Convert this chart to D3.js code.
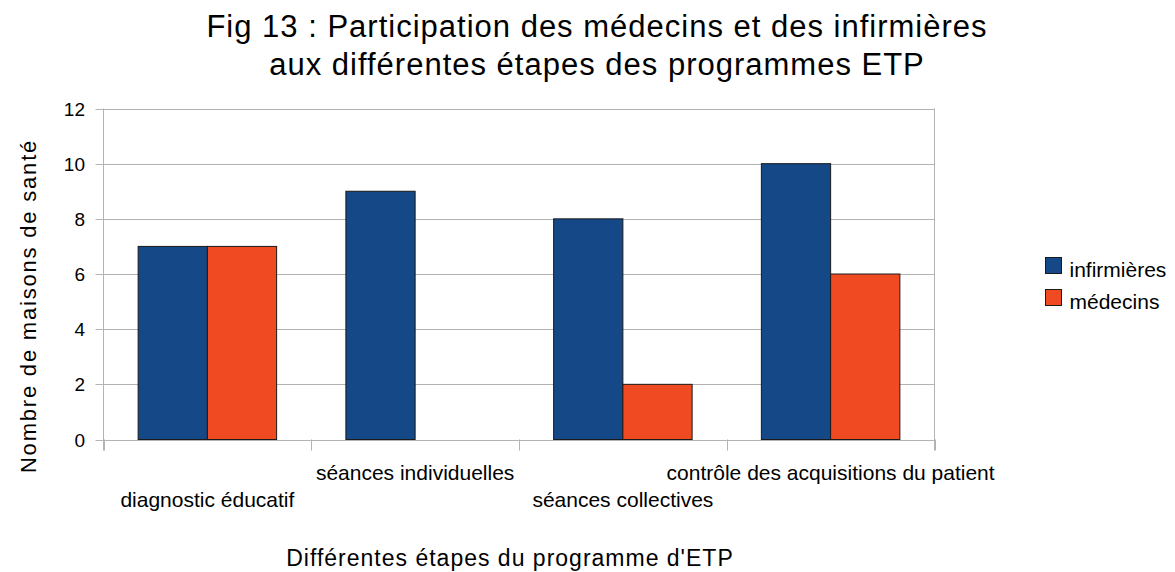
<!DOCTYPE html>
<html>
<head>
<meta charset="utf-8">
<script src="https://cdn.jsdelivr.net/npm/d3@7"></script>
<style>
  body { margin: 0; background: #fff; }
  text { font-family: "Liberation Sans", Arial, sans-serif; fill: #000; }
</style>
</head>
<body>
<script>
// Données
var categories = ["diagnostic éducatif", "séances individuelles", "séances collectives", "contrôle des acquisitions du patient"];
var seriesNames = ["infirmières", "médecins"];
var infirmieres = [7, 9, 8, 10];
var medecins = [7, 0, 2, 6];
var yTicks = [0, 2, 4, 6, 8, 10, 12];
var colors = ["#144887", "#f04a23"];

var width = 1175, height = 572;
var margin = {left: 103.5, right: 240.5, top: 108.5, bottom: 132.5};

var svg = d3.select("body").append("svg")
  .attr("width", width)
  .attr("height", height);

// Titre
svg.append("text")
  .attr("x", 597).attr("y", 37)
  .attr("text-anchor", "middle")
  .style("font-size", "31px")
  .style("letter-spacing", "1px")
  .text("Fig 13 : Participation des médecins et des infirmières");
svg.append("text")
  .attr("x", 597).attr("y", 75)
  .attr("text-anchor", "middle")
  .style("font-size", "31px")
  .style("letter-spacing", "1px")
  .text("aux différentes étapes des programmes ETP");

var x = d3.scaleBand()
  .domain(categories)
  .range([margin.left, width - margin.right]);

var x1 = d3.scaleBand()
  .domain(seriesNames)
  .range([x.bandwidth() / 6, x.bandwidth() * 5 / 6]);

var y = d3.scaleLinear()
  .domain([0, 12])
  .range([height - margin.bottom, margin.top]);

// Grille
svg.append("g")
  .selectAll("line")
  .data(yTicks)
  .join("line")
  .attr("x1", margin.left - 8)
  .attr("x2", width - margin.right)
  .attr("y1", d => Math.round(y(d)) + 0.5)
  .attr("y2", d => Math.round(y(d)) + 0.5)
  .attr("stroke", "#b3b3b3")
  .attr("stroke-width", 1);

// Axe vertical et bord droit
svg.append("line")
  .attr("x1", margin.left).attr("x2", margin.left)
  .attr("y1", margin.top).attr("y2", y(0) + 11)
  .attr("stroke", "#b3b3b3");
svg.append("line")
  .attr("x1", width - margin.right).attr("x2", width - margin.right)
  .attr("y1", margin.top).attr("y2", y(0) + 11)
  .attr("stroke", "#b3b3b3");

// Graduations de l'axe x
var bounds = categories.map(c => x(c)).concat([width - margin.right]);
svg.append("g")
  .selectAll("line")
  .data(bounds)
  .join("line")
  .attr("x1", d => Math.round(d) + 0.5)
  .attr("x2", d => Math.round(d) + 0.5)
  .attr("y1", y(0))
  .attr("y2", y(0) + 11)
  .attr("stroke", "#b3b3b3");

// Etiquettes de l'axe y
svg.append("g")
  .selectAll("text")
  .data(yTicks)
  .join("text")
  .attr("x", 85)
  .attr("y", d => y(d) + 7)
  .attr("text-anchor", "end")
  .style("font-size", "19px")
  .text(d => d);

// Barres
var rows = categories.map((c, i) => ({cat: c, values: [infirmieres[i], medecins[i]]}));
var groups = svg.append("g")
  .selectAll("g")
  .data(rows)
  .join("g")
  .attr("transform", d => "translate(" + x(d.cat) + ",0)");

groups.selectAll("rect")
  .data(d => d.values.map((v, j) => ({name: seriesNames[j], value: v, j: j})))
  .join("rect")
  .filter(d => d.value > 0)
  .attr("x", d => x1(d.name))
  .attr("y", d => y(d.value))
  .attr("width", x1.bandwidth())
  .attr("height", d => y(0) - y(d.value))
  .attr("fill", d => colors[d.j])
  .attr("stroke", "#1a1a1a")
  .attr("stroke-width", 1);

// Etiquettes des catégories (décalées)
svg.append("g")
  .selectAll("text")
  .data(categories)
  .join("text")
  .attr("x", d => x(d) + x.bandwidth() / 2)
  .attr("y", (d, i) => i % 2 == 0 ? 507 : 480)
  .attr("text-anchor", "middle")
  .style("font-size", "21px")
  .text(d => d);

// Titres des axes
svg.append("text")
  .attr("x", 510).attr("y", 566)
  .attr("text-anchor", "middle")
  .style("font-size", "23px")
  .style("letter-spacing", "1px")
  .text("Différentes étapes du programme d'ETP");

svg.append("text")
  .attr("transform", "translate(36,306) rotate(-90)")
  .attr("text-anchor", "middle")
  .style("font-size", "22px")
  .style("letter-spacing", "1.8px")
  .text("Nombre de maisons de santé");

// Légende
var legend = svg.append("g")
  .selectAll("g")
  .data(seriesNames)
  .join("g")
  .attr("transform", (d, i) => "translate(1045.5," + (257.5 + i * 32) + ")");

legend.append("rect")
  .attr("width", 16).attr("height", 16)
  .attr("fill", (d, i) => colors[i])
  .attr("stroke", "#1a1a1a");

legend.append("text")
  .attr("x", 24).attr("y", 19)
  .style("font-size", "21px")
  .text(d => d);
</script>
</body>
</html>
